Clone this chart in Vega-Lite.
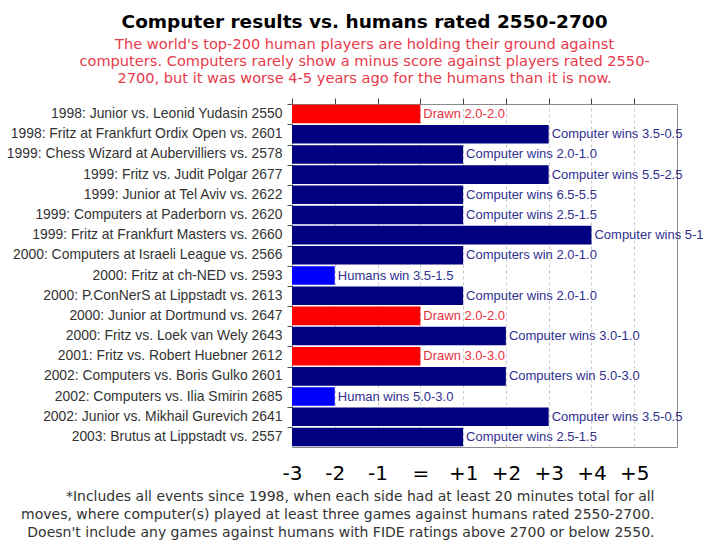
{
  "$schema": "https://vega.github.io/schema/vega-lite/v6.json",
  "width": 385,
  "height": 343,
  "background": "white",
  "padding": {"left": 5, "top": 13, "right": 5, "bottom": 5},
  "view": {"stroke": "#8a8a8a", "strokeWidth": 1},
  "title": {
    "text": "Computer results vs. humans rated 2550-2700",
    "subtitle": [
      "The world's top-200 human players are holding their ground against",
      "computers.  Computers rarely show a minus score against players rated 2550-",
      "2700, but it was worse 4-5 years ago for the humans than it is now."
    ],
    "font": "DejaVu Sans",
    "fontSize": 18.5,
    "fontWeight": "bold",
    "color": "#000000",
    "subtitleFont": "DejaVu Sans",
    "subtitleFontSize": 14.6,
    "subtitleColor": "#e8394a",
    "subtitleLineHeight": 17,
    "subtitlePadding": 5,
    "anchor": "middle",
    "frame": "bounds",
    "dx": 10,
    "offset": 12
  },
  "data": {
    "values": [
      {"event": "1998: Junior vs. Leonid Yudasin 2550", "score": 0, "result": "Drawn 2.0-2.0", "winner": "draw"},
      {"event": "1998: Fritz at Frankfurt Ordix Open vs. 2601", "score": 3, "result": "Computer wins 3.5-0.5", "winner": "computer"},
      {"event": "1999: Chess Wizard at Aubervilliers vs. 2578", "score": 1, "result": "Computer wins 2.0-1.0", "winner": "computer"},
      {"event": "1999: Fritz vs. Judit Polgar 2677", "score": 3, "result": "Computer wins 5.5-2.5", "winner": "computer"},
      {"event": "1999: Junior at Tel Aviv vs. 2622", "score": 1, "result": "Computer wins 6.5-5.5", "winner": "computer"},
      {"event": "1999: Computers at Paderborn vs. 2620", "score": 1, "result": "Computer wins 2.5-1.5", "winner": "computer"},
      {"event": "1999: Fritz at Frankfurt Masters vs. 2660", "score": 4, "result": "Computer wins 5-1", "winner": "computer"},
      {"event": "2000: Computers at Israeli League vs. 2566", "score": 1, "result": "Computers win 2.0-1.0", "winner": "computer"},
      {"event": "2000: Fritz at ch-NED vs. 2593", "score": -2, "result": "Humans win 3.5-1.5", "winner": "human"},
      {"event": "2000: P.ConNerS at Lippstadt vs. 2613", "score": 1, "result": "Computer wins 2.0-1.0", "winner": "computer"},
      {"event": "2000: Junior at Dortmund vs. 2647", "score": 0, "result": "Drawn 2.0-2.0", "winner": "draw"},
      {"event": "2000: Fritz vs. Loek van Wely 2643", "score": 2, "result": "Computer wins 3.0-1.0", "winner": "computer"},
      {"event": "2001: Fritz vs. Robert Huebner 2612", "score": 0, "result": "Drawn 3.0-3.0", "winner": "draw"},
      {"event": "2002: Computers vs. Boris Gulko 2601", "score": 2, "result": "Computers win 5.0-3.0", "winner": "computer"},
      {"event": "2002: Computers vs. Ilia Smirin 2685", "score": -2, "result": "Human wins 5.0-3.0", "winner": "human"},
      {"event": "2002: Junior vs. Mikhail Gurevich 2641", "score": 3, "result": "Computer wins 3.5-0.5", "winner": "computer"},
      {"event": "2003: Brutus at Lippstadt vs. 2557", "score": 1, "result": "Computer wins 2.5-1.5", "winner": "computer"}
    ]
  },
  "encoding": {
    "y": {
      "field": "event",
      "type": "nominal",
      "sort": null,
      "scale": {"paddingInner": 0.08, "paddingOuter": 0.04},
      "axis": {
        "title": null,
        "domain": false,
        "bandPosition": 0,
        "tickColor": "#555555",
        "tickSize": 5,
        "labelFont": "Liberation Sans",
        "labelFontSize": 13.9,
        "labelColor": "#333333",
        "labelPadding": 5,
        "labelLimit": 400
      }
    }
  },
  "layer": [
    {
      "mark": {"type": "bar", "orient": "horizontal"},
      "encoding": {
        "x": {
          "field": "score",
          "type": "quantitative",
          "scale": {"domain": [-3, 6], "nice": false, "zero": false},
          "axis": {
            "orient": "top",
            "values": [-3, -2, -1, 0, 1, 2, 3, 4, 5],
            "labels": false,
            "domain": false,
            "grid": false,
            "ticks": true,
            "tickSize": 6,
            "tickColor": "#444444",
            "title": null
          }
        },
        "x2": {"datum": -3},
        "color": {
          "field": "winner",
          "type": "nominal",
          "scale": {"domain": ["computer", "draw", "human"], "range": ["#000080", "#ff0000", "#0000ff"]},
          "legend": null
        }
      }
    },
    {
      "mark": {"type": "text", "align": "left", "baseline": "middle", "dx": 3, "font": "Liberation Sans", "fontSize": 13},
      "encoding": {
        "x": {
          "field": "score",
          "type": "quantitative",
          "axis": {
            "orient": "bottom",
            "values": [-3, -2, -1, 0, 1, 2, 3, 4, 5],
            "labelExpr": "datum.value == 0 ? '=' : (datum.value > 0 ? '+' + datum.value : '' + datum.value)",
            "labelFont": "DejaVu Sans",
            "labelFontSize": 20,
            "labelColor": "#000000",
            "labelPadding": 16,
            "labelFlush": false,
            "domain": false,
            "ticks": false,
            "grid": true,
            "gridDash": [3, 3],
            "gridColor": "#c8c8c8",
            "title": [
              "*Includes all events since 1998, when each side had at least 20 minutes total for all",
              "moves, where computer(s) played at least three games against humans rated 2550-2700.",
              "Doesn't include any games against humans with FIDE ratings above 2700 or below 2550."
            ],
            "titleFont": "DejaVu Sans",
            "titleFontSize": 14,
            "titleFontWeight": "normal",
            "titleColor": "#333333",
            "titleLineHeight": 18,
            "titleAlign": "right",
            "titleAnchor": "end",
            "titleX": 362,
            "titlePadding": 6
          }
        },
        "text": {"field": "result"},
        "color": {
          "field": "winner",
          "type": "nominal",
          "scale": {"domain": ["computer", "draw", "human"], "range": ["#30308f", "#e8303c", "#30308f"]},
          "legend": null
        }
      }
    }
  ],
  "resolve": {"axis": {"x": "independent"}, "scale": {"color": "independent"}}
}
